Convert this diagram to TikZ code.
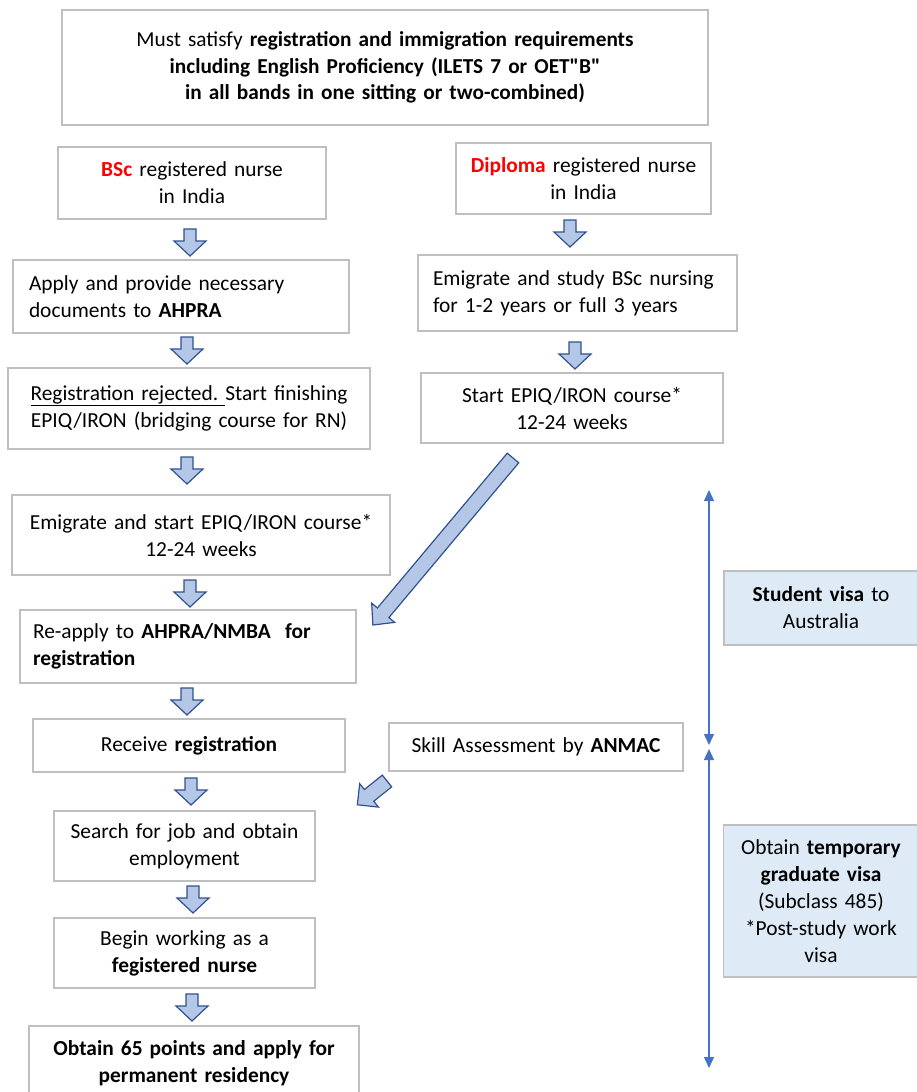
\documentclass[tikz,border=0pt]{standalone}
\usepackage{fontspec}
\setmainfont{Carlito}[Ligatures=TeXOff]
\usetikzlibrary{arrows.meta}
\definecolor{boxgray}{HTML}{BFBFBF}
\definecolor{arrfill}{HTML}{B4C7E7}
\definecolor{arrdraw}{HTML}{2F528F}
\definecolor{visafill}{HTML}{DEEBF7}
\definecolor{vline}{HTML}{4472C4}
\definecolor{redtxt}{HTML}{FF0000}
\tikzset{
  box/.style={draw=boxgray, line width=1.4pt, inner xsep=0pt, inner ysep=0pt,
    align=center, font=\fontsize{21.4}{27}\selectfont},
  visabox/.style={box, fill=visafill},
  blockarrow/.style={fill=arrfill, draw=arrdraw, line width=1.2pt, line join=miter},
  vconn/.style={draw=vline, line width=1.3pt,
    {Triangle[length=11pt,width=10pt]}-{Triangle[length=11pt,width=10pt]}},
  pics/barrow/.style n args={4}{code={
    \path[blockarrow] (0,-#2/2) -- (#1-#4,-#2/2) -- (#1-#4,-#3/2) -- (#1,0)
      -- (#1-#4,#3/2) -- (#1-#4,#2/2) -- (0,#2/2) -- cycle;}}
}
\begin{document}
\begin{tikzpicture}[x=1pt,y=-1pt]
\useasboundingbox (0,0) rectangle (916,1092);
% boxes
\node[box, minimum height=115pt, text width=646pt, font=\fontsize{21.3}{26.5}\selectfont] (top) at (385,67.5)
  {Must satisfy \textbf{registration and immigration requirements}\\
   \textbf{including English Proficiency (ILETS 7 or OET"B"}\\
   \textbf{in all bands in one sitting or two-combined)}};
\node[box, minimum height=72pt, text width=268pt] (bsc) at (192,183)
  {\textcolor{redtxt}{\textbf{BSc}} registered nurse\\in India};
\node[box, minimum height=71pt, text width=255pt] (dip) at (583.5,178.5)
  {\textcolor{redtxt}{\textbf{Diploma}} registered nurse\\in India};
\node[box, align=left, inner xsep=16pt, text width=304pt, minimum height=73pt] (apply) at (181,296.5)
  {Apply and provide necessary\\documents to \textbf{AHPRA}};
\node[box, align=left, inner xsep=15pt, text width=289pt, minimum height=76pt] (study) at (577.5,293)
  {Emigrate and study BSc nursing\\for 1-2 years or full 3 years};
\node[box, minimum height=81pt, text width=362pt] (rej) at (189,408.5)
  {\underline{Registration rejected.\ }Start finishing\\EPIQ/IRON (bridging course for RN)};
\node[box, minimum height=70pt, text width=302pt] (epiq) at (572,408)
  {Start EPIQ/IRON course*\\12-24 weeks};
\node[box, minimum height=80pt, text width=378pt] (emig) at (201,535)
  {Emigrate and start EPIQ/IRON course*\\12-24 weeks};
\node[box, align=left, inner xsep=13pt, text width=310pt, minimum height=73pt] (reapply) at (188,646.5)
  {Re-apply to \textbf{AHPRA/NMBA\ \ for}\\\textbf{registration}};
\node[box, minimum height=53pt, text width=312pt] (receive) at (189,745.5)
  {Receive \textbf{registration}};
\node[box, minimum height=48pt, text width=294pt] (skill) at (536,747)
  {Skill Assessment by \textbf{ANMAC}};
\node[box, minimum height=70pt, text width=261pt] (search) at (184.5,846)
  {Search for job and obtain\\employment};
\node[box, minimum height=70pt, text width=261pt] (begin) at (184.5,953)
  {Begin working as a\\\textbf{fegistered nurse}};
\node[box, minimum height=74pt, text width=330pt] (obtain) at (194,1063)
  {\textbf{Obtain 65 points and apply for}\\\textbf{permanent residency}};
\node[visabox, minimum height=74pt, text width=194pt] (student) at (821,608)
  {\textbf{Student visa} to\\Australia};
\node[visabox, minimum height=152pt, text width=195pt] (temp) at (821,901)
  {Obtain \textbf{temporary}\\\textbf{graduate visa}\\(Subclass 485)\\{*}Post-study work\\visa};
% block arrows
\pic[rotate=-90] at (190,229) {barrow={27}{12}{32}{15}};
\pic[rotate=-90] at (570,220) {barrow={27}{12}{32}{15}};
\pic[rotate=-90] at (187,337) {barrow={27}{12}{32}{15}};
\pic[rotate=-90] at (575,342) {barrow={27}{12}{32}{15}};
\pic[rotate=-90] at (187,457) {barrow={27}{12}{32}{15}};
\pic[rotate=-90] at (190,580) {barrow={27}{12}{32}{15}};
\pic[rotate=-90] at (187,688) {barrow={27}{12}{32}{15}};
\pic[rotate=-90] at (191,778) {barrow={27}{12}{32}{15}};
\pic[rotate=-90] at (193,886) {barrow={27}{12}{32}{15}};
\pic[rotate=-90] at (192,994) {barrow={27}{12}{32}{15}};
\pic[rotate=230] at (513,458) {barrow={218}{15}{30}{16}};
\pic[rotate=218.7] at (387,781) {barrow={38}{15}{30}{15}};
% vertical visa spans
\coordinate (v1top) at (709,490);
\coordinate (v1bot) at (709,745);
\coordinate (v2top) at (709,749);
\coordinate (v2bot) at (709,1068);
\draw[vconn] (v1top) -- (v1bot);
\draw[vconn] (v2top) -- (v2bot);
\end{tikzpicture}
\end{document}
